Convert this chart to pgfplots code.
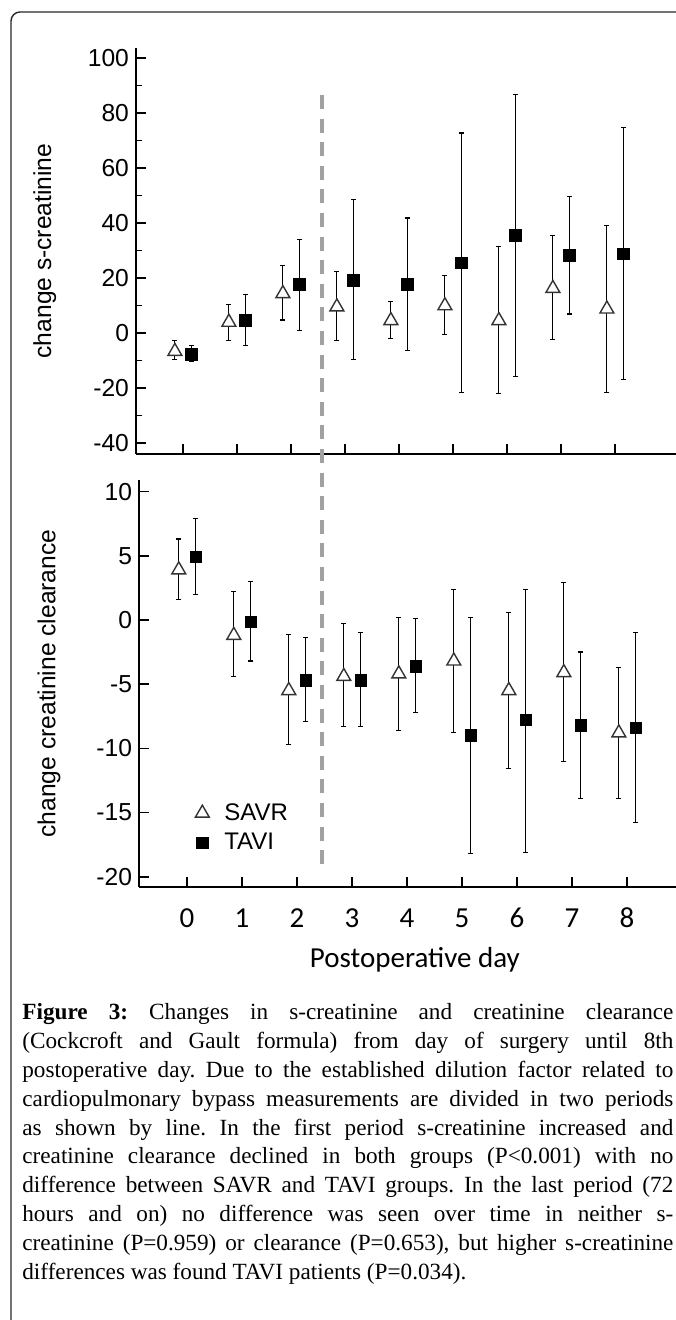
\documentclass[border=0pt]{standalone}
\usepackage{fontspec}
\setmainfont{Liberation Sans}
\newfontfamily\calibri{Carlito}
\newfontfamily\capserif{Liberation Serif}
\usepackage{pgfplots}
\usepackage{pgfplotstable}
\pgfplotsset{compat=1.18}

% change s-creatinine: x, mean, upper and lower error
\pgfplotstableread{
x      y     ep    em
-0.15  -6.7  3.9   3.0
0.85   3.9   6.3   6.7
1.85   14.3  10.1  9.6
2.85   9.5   12.7  12.3
3.85   4.5   6.9   6.4
4.85   9.9   11.1  10.5
5.85   4.5   26.9  26.6
6.85   16.2  19.3  18.6
7.85   8.7   30.5  30.3
}\creaSAVR
\pgfplotstableread{
x      y     ep    em
0.16   -7.9  3.4   2.6
1.16   4.6   9.3   9.0
2.16   17.6  16.5  16.8
3.16   19.2  29.4  28.7
4.16   17.6  24.2  24.1
5.16   25.5  47.2  47.1
6.16   35.5  51.3  51.3
7.16   28.1  21.6  21.2
8.16   28.8  46.0  45.8
}\creaTAVI

% change creatinine clearance
\pgfplotstableread{
x      y     ep    em
-0.15  3.9   2.4   2.3
0.85   -1.2  3.4   3.2
1.85   -5.5  4.4   4.2
2.85   -4.4  4.1   3.9
3.85   -4.2  4.4   4.4
4.85   -3.2  5.6   5.6
5.85   -5.5  6.1   6.1
6.85   -4.1  7.0   6.9
7.85   -8.8  5.1   5.1
}\clearSAVR
\pgfplotstableread{
x      y     ep    em
0.16   4.9   3.0   2.9
1.16   -0.15 3.15  3.05
2.16   -4.7  3.3   3.2
3.16   -4.7  3.7   3.6
4.16   -3.6  3.7   3.6
5.16   -9.0  9.2   9.2
6.16   -7.8  10.2  10.3
7.16   -8.2  5.7   5.7
8.16   -8.4  7.4   7.4
}\clearTAVI

\pgfplotsset{
  panel/.style={
    scale only axis,
    axis x line=bottom, axis y line=left,
    axis line style={-, line width=1pt},
    tick align=inside,
    major tick length=5pt, minor tick length=3pt,
    every tick/.style={black, line width=0.8pt},
    xtick={0,...,8}, xmax=9.3,
    clip=false,
    /pgf/number format/assume math mode=true,
    yticklabel style={font=\fontsize{12.3}{14}\selectfont},
    ylabel style={font=\fontsize{12.3}{14}\selectfont, anchor=center},
    error bars/error bar style={line width=0.55pt, black},
    error bars/error mark options={rotate=90, mark size=1.3pt, line width=0.55pt, black},
  },
  savr/.style={only marks, mark=triangle*, mark size=4pt,
    mark options={fill=white, draw=black!80, line width=0.7pt},
    error bars/.cd, y dir=both, y explicit},
  tavi/.style={only marks, mark=square*, mark size=2.9pt,
    mark options={fill=black, draw=black},
    error bars/.cd, y dir=both, y explicit},
}

\begin{document}
\begin{tikzpicture}
\useasboundingbox (0pt,0pt) rectangle (337.5pt,660pt);
\draw[line width=0.7pt, black!85, rounded corners=4.5pt] (5.5pt,-20pt) -- (5.5pt,654pt) -- (360pt,654pt);

\begin{axis}[panel,
  at={(68pt,433pt)}, anchor=south west,
  width=274.6pt, height=203pt,
  xmin=-0.87, ymin=-44, ymax=103.6,
  ytick={-40,-20,...,100}, minor ytick={-30,-10,...,90},
  xticklabels={},
  ylabel={change s-creatinine},
  ylabel style={at={(axis description cs:-0.166,0.5)}},
]
\addplot[savr] table[x=x, y=y, y error plus=ep, y error minus=em] {\creaSAVR};
\addplot[tavi] table[x=x, y=y, y error plus=ep, y error minus=em] {\creaTAVI};
\end{axis}

\begin{axis}[panel,
  at={(69.5pt,216.5pt)}, anchor=south west,
  width=279.8pt, height=203.5pt,
  xmin=-0.873, ymin=-20.8, ymax=10.9,
  ytick={-20,-15,...,10},
  xticklabel style={font=\calibri\fontsize{14.5}{16}\selectfont, anchor=base, yshift=-20.5pt},
  xlabel={Postoperative day},
  xlabel style={font=\calibri\fontsize{14.5}{16}\selectfont,
    at={(axis description cs:0.493,-0.199)}, anchor=base},
  ylabel={change creatinine clearance},
  ylabel style={at={(axis description cs:-0.161,0.5)}},
  legend style={draw=none, fill=none, at={(axis cs:0.036,-16.2)}, anchor=west,
    font=\fontsize{12}{14}\selectfont, row sep=1pt,
    /tikz/every odd column/.append style={column sep=5.5pt}},
  legend cell align=left,
]
\addplot[savr] table[x=x, y=y, y error plus=ep, y error minus=em] {\clearSAVR};
\addlegendentry{SAVR}
\addplot[tavi] table[x=x, y=y, y error plus=ep, y error minus=em] {\clearTAVI};
\addlegendentry{TAVI}
\end{axis}

% period separator
\draw[black!37, line width=1.8pt, dash pattern=on 7pt off 4.8pt] (161pt,612.5pt) -- (161pt,227pt);

\node[anchor=base west, inner sep=0pt] at (11pt,150pt) {\parbox[t]{325.5pt}{%
\fontsize{11.6}{14.4}\selectfont\capserif\frenchspacing
\textbf{Figure 3:} Changes in s-creatinine and creatinine clearance\linebreak
(Cockcroft and Gault formula) from day of surgery until 8th\linebreak
postoperative day. Due to the established dilution factor related to\linebreak
cardiopulmonary bypass measurements are divided in two periods\linebreak
as shown by line. In the first period s-creatinine increased and\linebreak
creatinine clearance declined in both groups (P<0.001) with no\linebreak
difference between SAVR and TAVI groups. In the last period (72\linebreak
hours and on) no difference was seen over time in neither s-\linebreak
creatinine (P=0.959) or clearance (P=0.653), but higher s-creatinine\linebreak
differences was found TAVI patients (P=0.034).}};
\end{tikzpicture}
\end{document}
